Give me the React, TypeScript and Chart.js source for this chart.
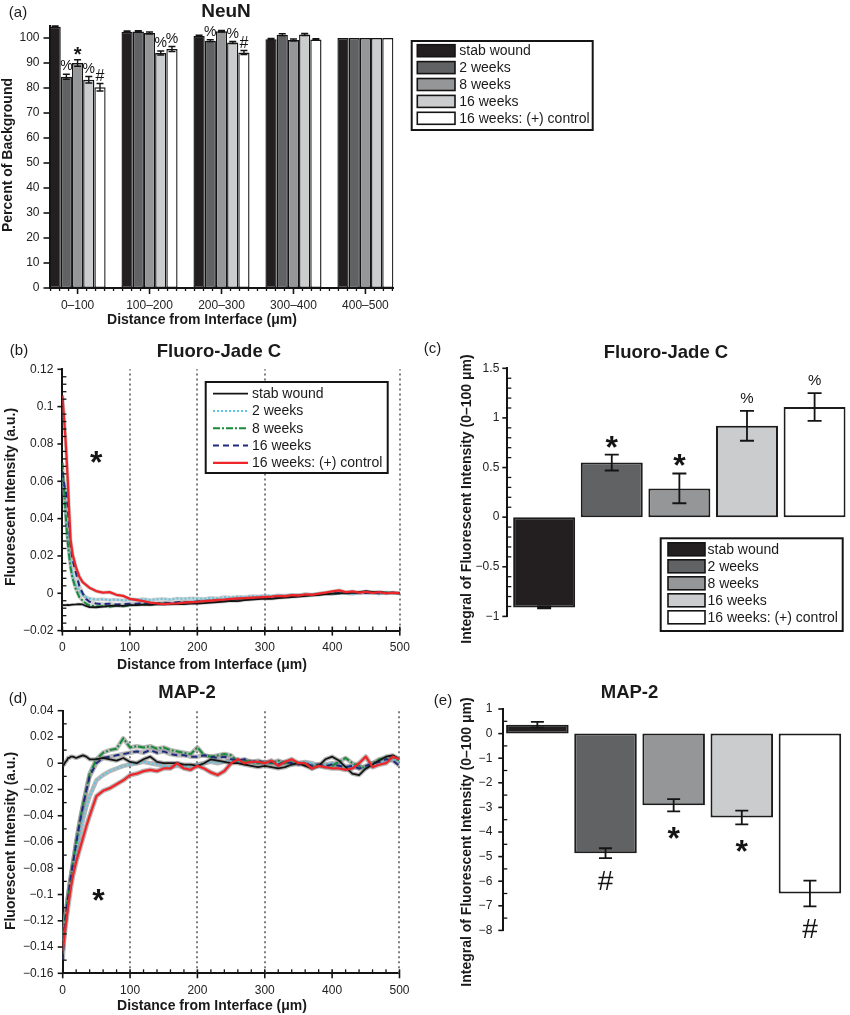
import React, { useEffect, useRef } from "react";
import { Chart, registerables } from "chart.js";
Chart.register(...registerables);

const FONT = "'Liberation Sans', Arial, Helvetica, sans-serif";

// ---------------- DATA ----------------
const SERIES_NAMES = ["stab wound", "2 weeks", "8 weeks", "16 weeks", "16 weeks: (+) control"];

// (a) NeuN
const NEUN_CATS = ["0–100", "100–200", "200–300", "300–400", "400–500"];
const NEUN_STAB = [104.5, 102.5, 100.8, 99.5, 100];
const NEUN_W2 = [84.5, 102.6, 98.9, 101.3, 100];
const NEUN_W8 = [90.0, 102.0, 102.7, 99.2, 100];
const NEUN_W16 = [83.3, 94.0, 98.2, 101.4, 100];
const NEUN_CTRL = [80.3, 95.6, 94.2, 99.4, 100];
const NEUN_STAB_ERR = [0.3, 0.3, 0.3, 0.3, 0];
const NEUN_W2_ERR = [1.0, 0.3, 0.4, 0.4, 0];
const NEUN_W8_ERR = [1.3, 0.4, 0.3, 0.4, 0];
const NEUN_W16_ERR = [1.3, 0.8, 0.4, 0.4, 0];
const NEUN_CTRL_ERR = [1.5, 1.0, 0.8, 0.3, 0];
const NEUN_STAB_SIG = ["", "", "", "", ""];
const NEUN_W2_SIG = ["%", "", "%", "", ""];
const NEUN_W8_SIG = ["*", "", "", "", ""];
const NEUN_W16_SIG = ["%", "%", "%", "", ""];
const NEUN_CTRL_SIG = ["#", "%", "#", "", ""];
const NEUN_Y_TICKS = [0, 10, 20, 30, 40, 50, 60, 70, 80, 90, 100];
const NEUN_Y_LABELS = ["0", "10", "20", "30", "40", "50", "60", "70", "80", "90", "100"];

// (b), (d) profiles
const DIST_X = [
  0, 2, 4, 6, 8, 10, 12, 15, 20, 25, 30, 35, 40,
  50, 60, 70, 80, 90, 100,
  110, 120, 130, 140, 150, 160, 170, 180, 190, 200,
  210, 220, 230, 240, 250, 260, 270, 280, 290, 300,
  310, 320, 330, 340, 350, 360, 370, 380, 390, 400,
  410, 420, 430, 440, 450, 460, 470, 480, 490, 500,
];
const DIST_TICKS = [0, 100, 200, 300, 400, 500];
const DIST_LABELS = ["0", "100", "200", "300", "400", "500"];
const DOTTED_X = [100, 200, 300, 500];

const FJ_STAB = [
  -0.0062, -0.0063, -0.0064, -0.0063, -0.0062, -0.0063, -0.0062, -0.0061, -0.006, -0.0058, -0.006, -0.0068, -0.0074,
  -0.0075, -0.0072, -0.0068, -0.0066, -0.0067, -0.0064,
  -0.0063, -0.0061, -0.0062, -0.0059, -0.006, -0.0058, -0.0057, -0.0058, -0.0056, -0.0055,
  -0.0053, -0.005, -0.0047, -0.0044, -0.0041, -0.0042, -0.0037, -0.0034, -0.0031, -0.0028,
  -0.003, -0.0026, -0.0023, -0.002, -0.0018, -0.0014, -0.0011, -0.0008, -0.0005, -0.0002,
  0.0, 0.0004, 0.0002, 0.0006, 0.0011, 0.0006, 0.0008, 0.0002, 0.0004, 0.0,
];
const FJ_W2 = [
  0.062, 0.054, 0.046, 0.037, 0.029, 0.022, 0.016, 0.01, 0.004, 0.001, -0.001, -0.002, -0.0028,
  -0.0034, -0.0032, -0.0036, -0.0034, -0.0038, -0.0036,
  -0.0034, -0.003, -0.0036, -0.0032, -0.003, -0.0034, -0.0028, -0.003, -0.0026, -0.0028,
  -0.003, -0.0024, -0.0026, -0.002, -0.0022, -0.0018, -0.002, -0.0014, -0.0016, -0.0012,
  -0.0016, -0.001, -0.0012, -0.0008, -0.001, -0.0004, -0.0008, -0.0002, 0.0002, -0.0002,
  0.0004, 0.0, -0.0004, 0.0002, 0.0006, 0.0002, -0.0002, 0.0004, 0.0002, 0.0,
];
const FJ_W8 = [
  0.07, 0.058, 0.047, 0.036, 0.027, 0.02, 0.014, 0.008, 0.002, -0.002, -0.004, -0.0055, -0.0065,
  -0.0071, -0.0068, -0.0072, -0.0066, -0.007, -0.0064,
  -0.0062, -0.0058, -0.006, -0.0056, -0.0054, -0.0056, -0.0052, -0.005, -0.0048, -0.0046,
  -0.0044, -0.004, -0.0042, -0.0036, -0.0034, -0.003, -0.0032, -0.0028, -0.0026, -0.0024,
  -0.0022, -0.002, -0.0018, -0.0016, -0.0012, -0.0014, -0.0008, -0.0006, -0.0004, -0.0002,
  0.0002, 0.0, 0.0004, 0.0002, 0.0006, 0.0004, 0.0, 0.0004, 0.0002, 0.0,
];
const FJ_W16 = [
  0.065, 0.06, 0.056, 0.053, 0.046, 0.035, 0.026, 0.018, 0.011, 0.004, 0.0, -0.003, -0.0045,
  -0.0055, -0.0058, -0.0056, -0.006, -0.0058, -0.0056,
  -0.0056, -0.0052, -0.0056, -0.0054, -0.005, -0.0052, -0.0048, -0.0046, -0.0048, -0.0044,
  -0.0042, -0.004, -0.0038, -0.0036, -0.0034, -0.0032, -0.003, -0.0028, -0.0026, -0.0024,
  -0.0022, -0.002, -0.0016, -0.0014, -0.0012, -0.001, -0.0008, -0.0006, -0.0004, -0.0002,
  0.0, 0.0002, 0.0, 0.0004, 0.0002, 0.0004, 0.0, 0.0002, 0.0002, 0.0,
];
const FJ_CTRL = [
  0.106, 0.096, 0.086, 0.074, 0.06, 0.044, 0.029, 0.021, 0.014, 0.009, 0.006, 0.0045, 0.003,
  0.0012, 0.0004, 0.0006, -0.0008, -0.0014, -0.003,
  -0.0036, -0.0042, -0.005, -0.0054, -0.0058, -0.0056, -0.0054, -0.005, -0.0048, -0.0046,
  -0.0042, -0.004, -0.0036, -0.0034, -0.003, -0.0028, -0.0026, -0.0024, -0.0022, -0.002,
  -0.0018, -0.0014, -0.0016, -0.001, -0.0012, -0.0006, -0.0008, -0.0002, 0.0004, 0.001,
  0.0016, 0.0006, 0.001, 0.0004, 0.0008, 0.0002, 0.0006, 0.0, 0.0004, 0.0,
];
const FJ_Y_TICKS = [-0.02, 0, 0.02, 0.04, 0.06, 0.08, 0.1, 0.12];
const FJ_Y_LABELS = ["−0.02", "0", "0.02", "0.04", "0.06", "0.08", "0.1", "0.12"];

const MAP_STAB = [
  -0.002, -0.001, 0.001, 0.002, 0.004, 0.004, 0.005, 0.005, 0.004, 0.005, 0.006, 0.005, 0.003,
  0.003, 0.004, 0.003, 0.002, 0.004, 0.001,
  0.0, 0.003, 0.005, 0.001, 0.0, 0.0, 0.0, -0.001, -0.001, -0.002,
  0.0, 0.003, 0.002, 0.001, 0.0, 0.0, -0.001, -0.002, -0.003, -0.002,
  -0.003, -0.004, -0.003, -0.001, 0.0, -0.002, -0.004, -0.002, 0.003, 0.005,
  0.002, -0.003, -0.008, -0.009, -0.004, -0.001, 0.002, 0.005, 0.006, 0.003,
];
const MAP_W2 = [
  -0.135, -0.126, -0.118, -0.11, -0.102, -0.095, -0.088, -0.079, -0.066, -0.054, -0.043, -0.033, -0.025,
  -0.013, -0.009, -0.006, -0.004, -0.002, -0.001,
  0.0, 0.001, 0.0, -0.001, -0.002, -0.003, -0.002, -0.003, -0.002, -0.001,
  0.0, 0.001, 0.0, 0.001, 0.002, 0.001, 0.002, 0.001, 0.0, 0.001,
  0.0, 0.001, 0.0, -0.001, 0.0, 0.001, 0.0, -0.002, -0.001, 0.0,
  -0.001, -0.003, -0.002, -0.004, -0.003, -0.001, 0.0, 0.002, 0.003, 0.001,
];
const MAP_W8 = [
  -0.13, -0.124, -0.117, -0.109, -0.101, -0.094, -0.087, -0.077, -0.06, -0.045, -0.032, -0.02, -0.008,
  0.003, 0.008, 0.01, 0.011, 0.019, 0.012,
  0.013, 0.012, 0.013, 0.011, 0.012, 0.01, 0.009, 0.008, 0.007, 0.012,
  0.006, 0.005, 0.006, 0.007, 0.006, 0.001, 0.002, 0.001, 0.0, 0.001,
  0.0, 0.002, 0.0, 0.001, 0.0, -0.001, -0.002, -0.001, -0.003, -0.002,
  0.001, 0.004, 0.0, -0.002, -0.004, 0.0, 0.003, 0.004, 0.005, 0.002,
];
const MAP_W16 = [
  -0.15, -0.13, -0.119, -0.11, -0.102, -0.094, -0.087, -0.077, -0.061, -0.046, -0.033, -0.021, -0.01,
  0.0, 0.004, 0.005, 0.006, 0.007, 0.008,
  0.009, 0.008, 0.01, 0.008, 0.009, 0.007, 0.006, 0.006, 0.005, 0.005,
  0.006, 0.005, 0.004, 0.005, 0.003, 0.002, 0.003, 0.001, 0.002, 0.0,
  0.001, -0.001, 0.001, 0.0, -0.001, 0.0, -0.002, -0.001, -0.002, -0.001,
  -0.002, -0.003, -0.002, -0.004, -0.002, 0.0, 0.001, 0.003, 0.002, -0.002,
];
const MAP_CTRL = [
  -0.143, -0.134, -0.125, -0.117, -0.109, -0.102, -0.095, -0.086, -0.075, -0.066, -0.057, -0.048, -0.04,
  -0.025, -0.021, -0.019, -0.016, -0.013, -0.009,
  -0.008, -0.006, -0.005, -0.006, -0.004, -0.004, 0.0, -0.004, -0.005, -0.002,
  -0.004, -0.007, -0.009, -0.006, 0.0, 0.003, 0.0, 0.001, 0.001, 0.0,
  0.002, -0.002, 0.001, 0.003, 0.0, 0.0, -0.004, -0.002, -0.003, -0.004,
  -0.004, -0.005, -0.004, 0.0, 0.005, -0.003, -0.001, 0.0, 0.005, 0.003,
];
const MAP_Y_TICKS = [-0.16, -0.14, -0.12, -0.1, -0.08, -0.06, -0.04, -0.02, 0, 0.02, 0.04];
const MAP_Y_LABELS = ["−0.16", "−0.14", "−0.12", "−0.1", "−0.08", "−0.06", "−0.04", "−0.02", "0", "0.02", "0.04"];

// (c) integral Fluoro-Jade C
const FJ_INT = [-0.91, 0.55, 0.29, 0.92, 1.11];
const FJ_INT_ERR = [0.01, 0.08, 0.15, 0.15, 0.14];
const FJ_INT_SIG = ["", "*", "*", "%", "%"];
const FJ_INT_TICKS = [-1, -0.5, 0, 0.5, 1, 1.5];
const FJ_INT_LABELS = ["−1", "−0.5", "0", "0.5", "1", "1.5"];

// (e) integral MAP-2
const MAP_INT = [0.36, -4.86, -2.91, -3.41, -6.5];
const MAP_INT_ERR = [0.12, 0.2, 0.25, 0.28, 0.52];
const MAP_INT_SIG = ["", "#", "*", "*", "#"];
const MAP_INT_TICKS = [-8, -7, -6, -5, -4, -3, -2, -1, 0, 1];
const MAP_INT_LABELS = ["−8", "−7", "−6", "−5", "−4", "−3", "−2", "−1", "0", "1"];

const BAR_POS = [1, 2, 3, 4, 5];

// ---------------- STYLES ----------------
const BAR_COLORS = ["#231f20", "#616264", "#959698", "#cbcccd", "#ffffff"];
const LINE_COLORS = ["#141414", "#5cc6e4", "#188a3a", "#1e2b7d", "#ee2529"];
const LINE_WIDTHS = [1.8, 2, 2, 2, 2.3];
const LINE_DASH = [[], [2, 2], [7, 2, 2, 2], [6, 4], []];
const LINE_ORDER = [2, 5, 4, 3, 1];
const INK = "#141414";

type Box = { left: number; top: number; w: number; h: number };
type Plot = { l: number; t: number; r: number; b: number };

function fnt(size: number, bold = false) {
  return `${bold ? "bold " : ""}${size}px ${FONT}`;
}

function drawCentered(ctx: any, text: string, x: number, yc: number) {
  ctx.textAlign = "center";
  ctx.textBaseline = "alphabetic";
  const m = ctx.measureText(text);
  ctx.fillText(text, x, yc + (m.actualBoundingBoxAscent - m.actualBoundingBoxDescent) / 2);
}

function minorValues(min: number, max: number, step: number, major: number[]) {
  const out: number[] = [];
  const n = Math.round((max - min) / step);
  for (let k = 0; k <= n; k++) {
    const v = min + k * step;
    if (!major.some((m) => Math.abs(m - v) < step * 0.01)) out.push(v);
  }
  return out;
}

function makeDeco(cfg: any, box: Box) {
  const ox = box.left, oy = box.top;
  return {
    id: "deco",
    beforeDatasetsDraw(chart: any) {
      if (!cfg.vlines) return;
      const { ctx, chartArea: ca } = chart;
      const xs = chart.scales.x;
      ctx.save();
      ctx.strokeStyle = "#7d7d7d";
      ctx.lineWidth = 2;
      ctx.setLineDash([2, 3]);
      cfg.vlines.forEach((v: number) => {
        const px = Math.round(xs.getPixelForValue(v));
        ctx.beginPath();
        ctx.moveTo(px, ca.bottom);
        ctx.lineTo(px, ca.top);
        ctx.stroke();
      });
      ctx.restore();
    },
    afterDatasetsDraw(chart: any) {
      const { ctx } = chart;
      const ys = chart.scales.y;
      const xs = chart.scales.x;
      chart.data.datasets.forEach((ds: any, di: number) => {
        if (!ds.errors) return;
        const meta = chart.getDatasetMeta(di);
        meta.data.forEach((el: any, i: number) => {
          const v = ds.data[i].y;
          const e = ds.errors[i];
          const x = el.x;
          const yt = ys.getPixelForValue(v + e);
          const yb = ys.getPixelForValue(v - e);
          if (e > 0) {
            ctx.save();
            ctx.strokeStyle = INK;
            ctx.lineWidth = cfg.err.width;
            ctx.beginPath();
            ctx.moveTo(x, yt);
            ctx.lineTo(x, yb);
            ctx.moveTo(x - cfg.err.cap, yt);
            ctx.lineTo(x + cfg.err.cap, yt);
            ctx.moveTo(x - cfg.err.cap, yb);
            ctx.lineTo(x + cfg.err.cap, yb);
            ctx.stroke();
            ctx.restore();
          }
          const s = ds.sig && ds.sig[i];
          if (s) {
            ctx.save();
            ctx.fillStyle = INK;
            ctx.font = cfg.sig.fonts[s];
            const yc = v >= 0 ? yt - cfg.sig.gap : yb + cfg.sig.gap;
            drawCentered(ctx, s, x, yc);
            ctx.restore();
          }
        });
      });
      (cfg.marks || []).forEach((m: any) => {
        ctx.save();
        ctx.fillStyle = INK;
        ctx.font = m.font;
        drawCentered(ctx, m.text, xs.getPixelForValue(m.x), ys.getPixelForValue(m.y));
        ctx.restore();
      });
      const lg = cfg.legend;
      if (lg) {
        ctx.save();
        const [l, t, r, b] = lg.box;
        ctx.fillStyle = "#fff";
        ctx.fillRect(l - ox, t - oy, r - l, b - t);
        ctx.strokeStyle = INK;
        ctx.lineWidth = 2;
        ctx.strokeRect(l - ox, t - oy, r - l, b - t);
        SERIES_NAMES.forEach((name, s) => {
          const cy = lg.first + s * lg.step - oy;
          if (lg.kind === "swatch") {
            ctx.fillStyle = BAR_COLORS[s];
            ctx.fillRect(lg.sx[0] - ox, cy - lg.sh / 2, lg.sx[1] - lg.sx[0], lg.sh);
            ctx.strokeStyle = INK;
            ctx.lineWidth = 1.6;
            ctx.strokeRect(lg.sx[0] - ox, cy - lg.sh / 2, lg.sx[1] - lg.sx[0], lg.sh);
          } else {
            ctx.strokeStyle = LINE_COLORS[s];
            ctx.lineWidth = LINE_WIDTHS[s];
            ctx.setLineDash(LINE_DASH[s]);
            ctx.beginPath();
            ctx.moveTo(lg.sx[0] - ox, cy);
            ctx.lineTo(lg.sx[1] - ox, cy);
            ctx.stroke();
            ctx.setLineDash([]);
          }
          ctx.fillStyle = "#1a1a1a";
          ctx.font = fnt(14);
          ctx.textAlign = "left";
          ctx.textBaseline = "middle";
          ctx.fillText(name, lg.textX - ox, cy + 0.5);
        });
        ctx.restore();
      }
    },
    afterDraw(chart: any) {
      const { ctx, chartArea: ca } = chart;
      ctx.save();
      ctx.strokeStyle = INK;
      const tk = cfg.ticks || {};
      if (tk.x) {
        const xs = chart.scales.x;
        const y0 = ca.bottom;
        const drawX = (vals: number[], out: number, inn: number, w: number) => {
          ctx.lineWidth = w;
          vals.forEach((v) => {
            const px = xs.getPixelForValue(v);
            ctx.beginPath();
            ctx.moveTo(px, y0 + out);
            ctx.lineTo(px, y0 - inn);
            ctx.stroke();
          });
        };
        drawX(tk.x.major, tk.x.majorOut, tk.x.majorIn, 1.6);
        drawX(minorValues(tk.x.min, tk.x.max, tk.x.minorStep, tk.x.major), tk.x.minorOut, tk.x.minorIn, 1.3);
      }
      if (tk.y) {
        const ys = chart.scales.y;
        const x0 = ca.left;
        const drawY = (vals: number[], out: number, inn: number, w: number) => {
          ctx.lineWidth = w;
          vals.forEach((v) => {
            const py = ys.getPixelForValue(v);
            ctx.beginPath();
            ctx.moveTo(x0 - out, py);
            ctx.lineTo(x0 + inn, py);
            ctx.stroke();
          });
        };
        drawY(tk.y.major, tk.y.majorOut, tk.y.majorIn, 1.6);
        if (tk.y.minorStep) drawY(minorValues(tk.y.min, tk.y.max, tk.y.minorStep, tk.y.major), tk.y.minorOut, tk.y.minorIn, 1.3);
      }
      ctx.restore();
      (cfg.texts || []).forEach((t: any) => {
        ctx.save();
        ctx.fillStyle = "#1a1a1a";
        ctx.font = fnt(t.size, t.bold);
        ctx.textAlign = "center";
        ctx.textBaseline = "middle";
        ctx.translate(t.x - ox, t.y - oy);
        if (t.rot) ctx.rotate(-Math.PI / 2);
        ctx.fillText(t.text, 0, 0);
        ctx.restore();
      });
    },
  };
}

function baseOptions(box: Box, plot: Plot, hasX: boolean) {
  return {
    responsive: false,
    maintainAspectRatio: false,
    animation: false,
    devicePixelRatio: 1,
    events: [],
    layout: {
      autoPadding: false,
      padding: {
        left: 0,
        top: plot.t - box.top,
        right: box.left + box.w - plot.r,
        bottom: hasX ? 0 : box.top + box.h - plot.b,
      },
    },
    plugins: { legend: { display: false }, tooltip: { enabled: false }, title: { display: false } },
  };
}

function yScale(box: Box, plot: Plot, min: number, max: number, ticks: number[], labels: string[], pad: number) {
  return {
    type: "linear",
    position: "left",
    min,
    max,
    afterBuildTicks: (s: any) => {
      s.ticks = ticks.map((v) => ({ value: v }));
    },
    afterFit: (s: any) => {
      s.width = plot.l - box.left;
    },
    grid: { display: false, drawTicks: false },
    border: { display: true, color: INK, width: 2 },
    ticks: {
      autoSkip: false,
      padding: pad,
      color: "#222",
      font: { family: FONT, size: 12 },
      callback: (_v: any, i: number) => labels[i],
    },
  };
}

function xScale(box: Box, plot: Plot, min: number, max: number, ticks: number[], labels: string[], pad: number, display = true) {
  return {
    type: "linear",
    position: "bottom",
    display,
    offset: false,
    min,
    max,
    afterBuildTicks: (s: any) => {
      s.ticks = ticks.map((v) => ({ value: v }));
    },
    afterFit: (s: any) => {
      s.height = box.top + box.h - plot.b;
    },
    grid: { display: false, drawTicks: false, offset: false },
    border: { display: true, color: INK, width: 2 },
    ticks: {
      autoSkip: false,
      maxRotation: 0,
      minRotation: 0,
      padding: pad,
      color: "#222",
      font: { family: FONT, size: 12 },
      callback: (_v: any, i: number) => labels[i],
    },
  };
}

function lineDatasets(series: number[][], halo: string, haloExtra: number) {
  const main: any[] = [];
  const halos: any[] = [];
  series.forEach((vals, s) => {
    const pts = DIST_X.map((x, i) => ({ x, y: vals[i] }));
    main.push({
      label: SERIES_NAMES[s],
      data: pts,
      borderColor: LINE_COLORS[s],
      borderWidth: LINE_WIDTHS[s],
      borderDash: LINE_DASH[s],
      borderJoinStyle: "round",
      pointRadius: 0,
      fill: false,
      tension: 0,
      order: LINE_ORDER[s],
    });
    halos.push({
      label: SERIES_NAMES[s] + " sem",
      data: pts,
      borderColor: halo,
      borderWidth: LINE_WIDTHS[s] + haloExtra,
      borderJoinStyle: "round",
      pointRadius: 0,
      fill: false,
      tension: 0,
      order: 20,
    });
  });
  return [...main, ...halos];
}

// ---------------- PANELS ----------------
const XTITLE = "Distance from Interface (μm)";
const INT_TITLE = "Integral of Fluorescent Intensity (0–100 μm)";

const A_BOX: Box = { left: 0, top: 0, w: 850, h: 335 };
const A_PLOT: Plot = { l: 49.5, t: 25.5, r: 393.5, b: 288 };
function buildA() {
  const vals = [NEUN_STAB, NEUN_W2, NEUN_W8, NEUN_W16, NEUN_CTRL];
  const errs = [NEUN_STAB_ERR, NEUN_W2_ERR, NEUN_W8_ERR, NEUN_W16_ERR, NEUN_CTRL_ERR];
  const sigs = [NEUN_STAB_SIG, NEUN_W2_SIG, NEUN_W8_SIG, NEUN_W16_SIG, NEUN_CTRL_SIG];
  const deco = {
    err: { width: 1.4, cap: 3.5 },
    sig: { gap: 9, fonts: { "%": fnt(14), "*": fnt(20, true), "#": fnt(16) } },
    legend: { kind: "swatch", box: [411.7, 41, 592.7, 130], first: 50.7, step: 16.9, sx: [417.3, 455], sh: 12, textX: 459.3 },
    ticks: {
      x: { major: BAR_POS, min: 0.625, max: 5.375, minorStep: 0.125, majorOut: 6, majorIn: 0, minorOut: 3, minorIn: 0 },
      y: { major: NEUN_Y_TICKS, majorOut: 6, majorIn: 0 },
    },
    texts: [
      { text: "(a)", x: 18, y: 13, size: 15 },
      { text: "NeuN", x: 226, y: 11.5, size: 19, bold: true },
      { text: XTITLE, x: 202, y: 320, size: 14, bold: true },
      { text: "Percent of Background", x: 8.5, y: 155, size: 14, bold: true, rot: true },
    ],
  };
  const opts: any = baseOptions(A_BOX, A_PLOT, true);
  opts.scales = {
    x: xScale(A_BOX, A_PLOT, 0.61, 5.39, BAR_POS, NEUN_CATS, 10.5),
    y: yScale(A_BOX, A_PLOT, 0, 105, NEUN_Y_TICKS, NEUN_Y_LABELS, 10),
  };
  return {
    type: "bar",
    data: {
      datasets: vals.map((v, s) => ({
        label: SERIES_NAMES[s],
        data: v.map((y, i) => ({ x: BAR_POS[i], y })),
        errors: errs[s],
        sig: sigs[s],
        backgroundColor: BAR_COLORS[s],
        borderColor: INK,
        borderWidth: 1.4,
        borderSkipped: false,
        categoryPercentage: 0.779,
        barPercentage: 1,
      })),
    },
    options: opts,
    plugins: [makeDeco(deco, A_BOX)],
  };
}

const B_BOX: Box = { left: 0, top: 335, w: 420, h: 340 };
const B_PLOT: Plot = { l: 62.4, t: 369.3, r: 401, b: 630.6 };
function buildB() {
  const deco = {
    vlines: DOTTED_X,
    marks: [{ x: 50, y: 0.073, text: "*", font: fnt(32, true) }],
    legend: { kind: "line", box: [205.7, 382, 387.7, 473], first: 393.7, step: 17.3, sx: [213, 248], textX: 252 },
    ticks: {
      x: { major: DIST_TICKS, min: 0, max: 500, minorStep: 20, majorOut: 5, majorIn: 4, minorOut: 0, minorIn: 4 },
      y: { major: FJ_Y_TICKS, min: -0.02, max: 0.12, minorStep: 0.004, majorOut: 5, majorIn: 0, minorOut: 0, minorIn: 4 },
    },
    texts: [
      { text: "(b)", x: 19, y: 350.5, size: 15 },
      { text: "Fluoro-Jade C", x: 219, y: 352, size: 18.5, bold: true },
      { text: XTITLE, x: 212, y: 665, size: 14, bold: true },
      { text: "Fluorescent Intensity (a.u.)", x: 11.5, y: 497, size: 14, bold: true, rot: true },
    ],
  };
  const opts: any = baseOptions(B_BOX, B_PLOT, true);
  opts.scales = {
    x: xScale(B_BOX, B_PLOT, 0, 500, DIST_TICKS, DIST_LABELS, 10.2),
    y: yScale(B_BOX, B_PLOT, -0.02, 0.12, FJ_Y_TICKS, FJ_Y_LABELS, 9),
  };
  return {
    type: "line",
    data: { datasets: lineDatasets([FJ_STAB, FJ_W2, FJ_W8, FJ_W16, FJ_CTRL], "rgba(150,150,150,0.45)", 1.5) },
    options: opts,
    plugins: [makeDeco(deco, B_BOX)],
  };
}

const C_BOX: Box = { left: 420, top: 335, w: 430, h: 310 };
const C_PLOT: Plot = { l: 507.3, t: 368.3, r: 845.7, b: 630.7 };
function buildC() {
  const deco = {
    err: { width: 1.8, cap: 7 },
    sig: { gap: 13, fonts: { "%": fnt(15), "*": fnt(32, true), "#": fnt(28) } },
    legend: { kind: "swatch", box: [660.7, 538.3, 842.7, 631], first: 549.3, step: 17, sx: [668, 705], sh: 13, textX: 707.5 },
    ticks: {
      y: { major: FJ_INT_TICKS, min: -1, max: 1.5, minorStep: 0.1, majorOut: 5, majorIn: 0, minorOut: 0, minorIn: 4 },
    },
    texts: [
      { text: "(c)", x: 432.5, y: 349, size: 15 },
      { text: "Fluoro-Jade C", x: 666, y: 353, size: 18.5, bold: true },
      { text: INT_TITLE, x: 467.5, y: 499, size: 14, bold: true, rot: true },
    ],
  };
  const opts: any = baseOptions(C_BOX, C_PLOT, false);
  opts.scales = {
    x: xScale(C_BOX, C_PLOT, 0.455, 5.46, BAR_POS, NEUN_CATS, 0, false),
    y: yScale(C_BOX, C_PLOT, -1, 1.5, FJ_INT_TICKS, FJ_INT_LABELS, 8),
  };
  return {
    type: "bar",
    data: {
      datasets: [
        {
          label: "Fluoro-Jade C",
          data: FJ_INT.map((y, i) => ({ x: BAR_POS[i], y })),
          errors: FJ_INT_ERR,
          sig: FJ_INT_SIG,
          backgroundColor: BAR_COLORS,
          borderColor: "#1c1c1c",
          borderWidth: 2,
          borderSkipped: false,
          categoryPercentage: 1,
          barPercentage: 0.917,
        },
      ],
    },
    options: opts,
    plugins: [makeDeco(deco, C_BOX)],
  };
}

const D_BOX: Box = { left: 0, top: 675, w: 420, h: 340 };
const D_PLOT: Plot = { l: 62.7, t: 710.7, r: 401, b: 973.3 };
function buildD() {
  const deco = {
    vlines: DOTTED_X,
    marks: [{ x: 53, y: -0.1, text: "*", font: fnt(32, true) }],
    ticks: {
      x: { major: DIST_TICKS, min: 0, max: 500, minorStep: 20, majorOut: 5, majorIn: 4, minorOut: 0, minorIn: 4 },
      y: { major: MAP_Y_TICKS, min: -0.16, max: 0.04, minorStep: 0.01, majorOut: 5, majorIn: 0, minorOut: 0, minorIn: 4 },
    },
    texts: [
      { text: "(d)", x: 18, y: 699, size: 15 },
      { text: "MAP-2", x: 187, y: 693, size: 18.5, bold: true },
      { text: XTITLE, x: 212, y: 1006, size: 14, bold: true },
      { text: "Fluorescent Intensity (a.u.)", x: 11, y: 841, size: 14, bold: true, rot: true },
    ],
  };
  const opts: any = baseOptions(D_BOX, D_PLOT, true);
  opts.scales = {
    x: xScale(D_BOX, D_PLOT, 0, 500, DIST_TICKS, DIST_LABELS, 10.5),
    y: yScale(D_BOX, D_PLOT, -0.16, 0.04, MAP_Y_TICKS, MAP_Y_LABELS, 9.4),
  };
  return {
    type: "line",
    data: { datasets: lineDatasets([MAP_STAB, MAP_W2, MAP_W8, MAP_W16, MAP_CTRL], "rgba(135,135,135,0.6)", 2.5) },
    options: opts,
    plugins: [makeDeco(deco, D_BOX)],
  };
}

const E_BOX: Box = { left: 420, top: 675, w: 430, h: 340 };
const E_PLOT: Plot = { l: 503.3, t: 709, r: 844, b: 972.7 };
function buildE() {
  const deco = {
    err: { width: 1.8, cap: 6.5 },
    sig: { gap: 22, fonts: { "%": fnt(15), "*": fnt(32, true), "#": fnt(28) } },
    ticks: {
      y: { major: MAP_INT_TICKS, min: -8, max: 1, minorStep: 0.5, majorOut: 5, majorIn: 0, minorOut: 0, minorIn: 4 },
    },
    texts: [
      { text: "(e)", x: 443, y: 701, size: 15 },
      { text: "MAP-2", x: 629.5, y: 692.5, size: 18.5, bold: true },
      { text: INT_TITLE, x: 467.5, y: 842, size: 14, bold: true, rot: true },
    ],
  };
  const opts: any = baseOptions(E_BOX, E_PLOT, false);
  opts.scales = {
    x: xScale(E_BOX, E_PLOT, 0.5, 5.5, BAR_POS, NEUN_CATS, 0, false),
    y: yScale(E_BOX, E_PLOT, -8, 1, MAP_INT_TICKS, MAP_INT_LABELS, 11),
  };
  return {
    type: "bar",
    data: {
      datasets: [
        {
          label: "MAP-2",
          data: MAP_INT.map((y, i) => ({ x: BAR_POS[i], y })),
          errors: MAP_INT_ERR,
          sig: MAP_INT_SIG,
          backgroundColor: BAR_COLORS,
          borderColor: "#1c1c1c",
          borderWidth: 2,
          borderSkipped: false,
          categoryPercentage: 1,
          barPercentage: 0.918,
        },
      ],
    },
    options: opts,
    plugins: [makeDeco(deco, E_BOX)],
  };
}

function ChartCanvas({ box, build }: { box: Box; build: () => any }) {
  const ref = useRef<HTMLCanvasElement>(null);
  useEffect(() => {
    const chart = new Chart(ref.current as HTMLCanvasElement, build());
    return () => chart.destroy();
  }, []);
  return (
    <canvas
      ref={ref}
      width={box.w}
      height={box.h}
      style={{ position: "absolute", left: box.left, top: box.top, width: box.w, height: box.h }}
    />
  );
}

export default function App() {
  return (
    <div style={{ position: "absolute", left: 0, top: 0, width: 850, height: 1015, background: "#fff", overflow: "hidden" }}>
      <ChartCanvas box={A_BOX} build={buildA} />
      <ChartCanvas box={B_BOX} build={buildB} />
      <ChartCanvas box={C_BOX} build={buildC} />
      <ChartCanvas box={D_BOX} build={buildD} />
      <ChartCanvas box={E_BOX} build={buildE} />
    </div>
  );
}
